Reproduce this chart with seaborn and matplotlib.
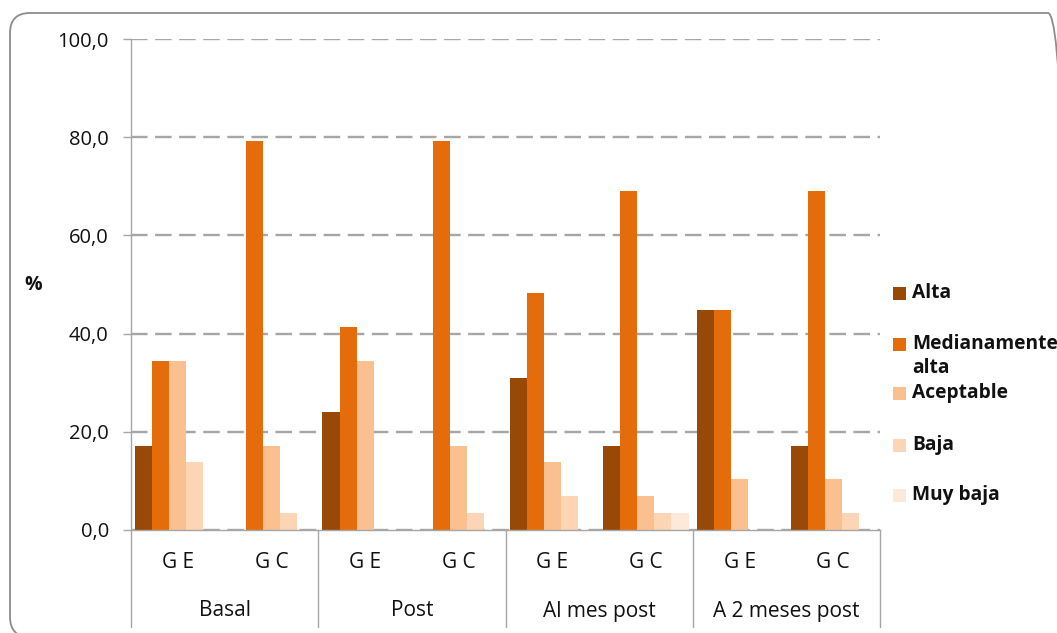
import numpy as np
import pandas as pd
import matplotlib
matplotlib.use("Agg")
import matplotlib.pyplot as plt
from matplotlib.patches import FancyBboxPatch, Rectangle
from matplotlib.ticker import FuncFormatter
import seaborn as sns

# Satisfaction levels (%) per moment and group
momentos = ["Basal", "Post", "Al mes post", "A 2 meses post"]
grupos = ["G E", "G C"]
niveles = ["Alta", "Medianamente alta", "Aceptable", "Baja", "Muy baja"]
etiquetas_leyenda = ["Alta", "Medianamente\nalta", "Aceptable", "Baja", "Muy baja"]

# order: Basal GE, Basal GC, Post GE, Post GC, Mes GE, Mes GC, 2m GE, 2m GC
alta = [17.2, 0.0, 24.1, 0.0, 31.0, 17.2, 44.8, 17.2]
medianamente_alta = [34.5, 79.3, 41.4, 79.3, 48.3, 69.0, 44.8, 69.0]
aceptable = [34.5, 17.2, 34.5, 17.2, 13.8, 6.9, 10.3, 10.3]
baja = [13.8, 3.4, 0.0, 3.4, 6.9, 3.4, 0.0, 3.4]
muy_baja = [0.0, 0.0, 0.0, 0.0, 0.0, 3.4, 0.0, 0.0]

colores = ["#984807", "#E46C0A", "#FAC090", "#FCD5B5", "#FDE9D9"]

serie = dict(zip(niveles, [alta, medianamente_alta, aceptable, baja, muy_baja]))
claves = [f"{m}|{g}" for m in momentos for g in grupos]
filas = []
for nivel in niveles:
    for clave, v in zip(claves, serie[nivel]):
        filas.append({"clave": clave, "nivel": nivel, "pct": v})
df = pd.DataFrame(filas)

sns.set_theme(style="white")
plt.rcParams["font.family"] = ["Open Sans", "DejaVu Sans"]

W, H = 1057, 633
FS = 14.5
fig = plt.figure(figsize=(W / 100, H / 100), dpi=100)
ax = fig.add_axes([131 / W, 1 - 530 / H, (880 - 131) / W, (530 - 39) / H])

sns.barplot(data=df, x="clave", y="pct", hue="nivel", order=claves,
            hue_order=niveles, palette=colores, saturation=1, width=0.91,
            gap=0, linewidth=0, legend=False, ax=ax)

ax.set_xlim(-0.5, len(claves) - 0.5)
ax.set_ylim(0, 100)
ax.set_yticks(np.arange(0, 101, 20))
ax.yaxis.set_major_formatter(FuncFormatter(lambda v, p: f"{v:.1f}".replace(".", ",")))
ax.tick_params(axis="y", which="major", direction="out", length=6, width=1,
               color="#A6A6A6", pad=10, labelsize=FS, labelcolor="#111111", left=True)
ax.set_xticks([])
ax.set_xlabel("")
ax.set_ylabel("")

ax.set_axisbelow(True)
ax.yaxis.grid(True, color="#A6A6A6", linewidth=1.7, linestyle=(0, (7.0, 3.2)))
ax.xaxis.grid(False)

for s in ["top", "right"]:
    ax.spines[s].set_visible(False)
for s in ["left", "bottom"]:
    ax.spines[s].set_color("#A6A6A6")
    ax.spines[s].set_linewidth(1.0)

# multi-level category axis
trans = ax.get_xaxis_transform()
frac = 1 / (530 - 39)
for xb in np.arange(-0.5, len(claves), 2):
    ax.plot([xb, xb], [0, -97 * frac], transform=trans, color="#A6A6A6",
            linewidth=1.0, clip_on=False)
for i, clave in enumerate(claves):
    ax.text(i, -33 * frac, clave.split("|")[1], transform=trans, ha="center",
            va="center", fontsize=FS + 0.5, color="#111111")
for j, m in enumerate(momentos):
    ax.text(2 * j + 0.5, -81 * frac, m, transform=trans, ha="center",
            va="center", fontsize=FS + 0.5, color="#111111")

fig.text(33 / W, 1 - 285 / H, "%", ha="center", va="center", fontsize=FS - 0.5,
         fontweight="bold", color="#111111")

# legend
leg_y = [293, 344, 393, 445, 495]
for col, lab, yy in zip(colores, etiquetas_leyenda, leg_y):
    fig.patches.append(Rectangle((893 / W, 1 - (yy + 6.5) / H), 13 / W, 13 / H,
                                 transform=fig.transFigure, facecolor=col,
                                 edgecolor="none"))
    lines = lab.split("\n")
    for k, ln in enumerate(lines):
        fig.text(912 / W, 1 - (yy + 24 * k) / H, ln, ha="left", va="center",
                 fontsize=13.8, fontweight="bold", color="#111111")

# chart area frame
fig.patches.append(FancyBboxPatch((0.10, -0.04), 10.58, 6.24,
                                  boxstyle="round,pad=0,rounding_size=0.2",
                                  transform=fig.dpi_scale_trans, facecolor="none",
                                  edgecolor="#8C8C8C", linewidth=1.3))

fig.savefig("out.png", dpi=100)
